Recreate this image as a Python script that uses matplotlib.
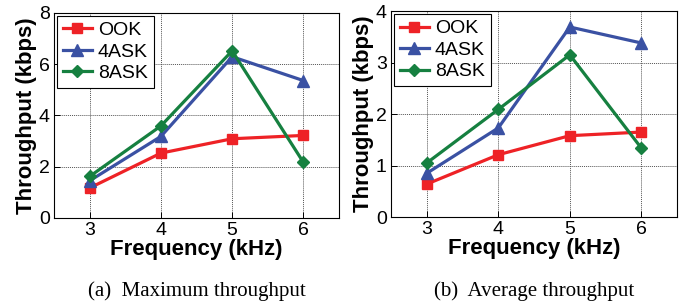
import matplotlib.pyplot as plt
import numpy as np

freq = [3, 4, 5, 6]
max_ook = [1.17, 2.53, 3.09, 3.22]
max_4ask = [1.45, 3.18, 6.29, 5.36]
max_8ask = [1.62, 3.59, 6.52, 2.17]
avg_ook = [0.64, 1.21, 1.58, 1.65]
avg_4ask = [0.85, 1.73, 3.69, 3.38]
avg_8ask = [1.05, 2.09, 3.15, 1.34]

names = ['OOK', '4ASK', '8ASK']
colors = ['#ee2226', '#3a51a3', '#168040']
markers = ['s', '^', 'D']
msizes = [7, 8, 6]

fig = plt.figure(figsize=(6.96, 3.07), dpi=100)
ax1 = fig.add_axes([0.0776, 0.290, 0.4095, 0.668])
ax2 = fig.add_axes([0.5618, 0.293, 0.411, 0.671])

panels = [
    (ax1, [max_ook, max_4ask, max_8ask], 8, [0, 2, 4, 6, 8], '(a)  Maximum throughput'),
    (ax2, [avg_ook, avg_4ask, avg_8ask], 4, [0, 1, 2, 3, 4], '(b)  Average throughput'),
]

for ax, series, ymax, yt, cap in panels:
    for vals, name, c, m, ms in zip(series, names, colors, markers, msizes):
        ax.plot(freq, vals, color=c, marker=m, markersize=ms, linewidth=2.3, label=name)
    ax.set_xlim(2.5, 6.5)
    ax.set_ylim(0, ymax)
    ax.set_xticks(freq)
    ax.set_yticks(yt)
    ax.grid(True, color='#555555', linestyle=(0, (1, 1)), linewidth=0.7)
    ax.tick_params(direction='in', labelsize=14, length=4, width=0.7, pad=3)
    for lab in ax.get_xticklabels() + ax.get_yticklabels():
        lab.set_family('Liberation Sans')
    for s in ax.spines.values():
        s.set_linewidth(0.8)
    ax.set_xlabel('Frequency (kHz)', fontsize=16, fontweight='bold',
                  family='Liberation Sans', labelpad=0)
    ax.set_ylabel('Throughput (kbps)', fontsize=16, fontweight='bold',
                  family='Liberation Sans', labelpad=1)
    leg = ax.legend(loc='upper left', prop={'family': 'Liberation Sans', 'size': 14},
                    fancybox=False, edgecolor='black', framealpha=1,
                    borderpad=0.3, labelspacing=0.2, handlelength=1.5,
                    handletextpad=0.3, borderaxespad=0.15)
    leg.get_frame().set_linewidth(0.8)
    ax.text(0.5, -0.31, cap, transform=ax.transAxes, ha='center', va='top',
            fontsize=15, family='Liberation Serif')

fig.savefig('out.png', dpi=100)
